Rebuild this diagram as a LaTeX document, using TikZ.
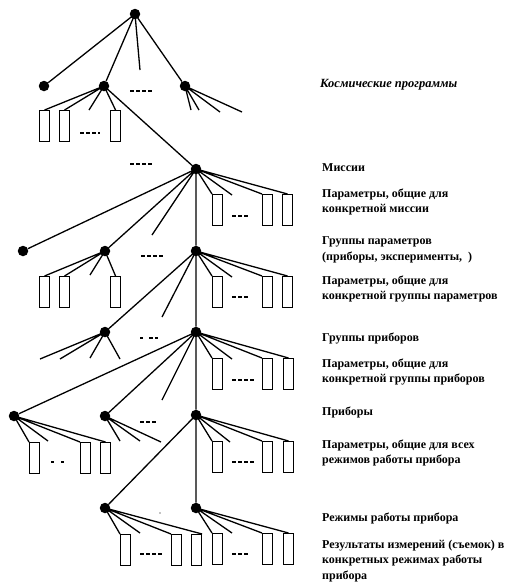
\documentclass[tikz,border=0pt]{standalone}
\usepackage{fontspec}
\setmainfont{Liberation Serif}
\begin{document}
\begin{tikzpicture}[x=1pt,y=-1pt,
  dot/.style={circle,fill,inner sep=0pt,minimum size=10.5pt},
  ln/.style={line width=1.3pt},
  box/.style={draw,line width=1.1pt,inner sep=0pt,minimum width=10pt,minimum height=31pt,anchor=north west},
  gapline/.style={line width=1.3pt,dash pattern=on 4pt off 2pt},
  lbl/.style={anchor=west,font=\bfseries\fontsize{12}{15.5}\selectfont,align=left,inner sep=0pt}]
\useasboundingbox (0,0) rectangle (515,587);
% ---- dots
\node[dot] (T) at (135,14) {};
\node[dot] (A1) at (44,86) {};
\node[dot] (A2) at (104,86) {};
\node[dot] (A3) at (185,86) {};
\node[dot] (M) at (196,169) {};
\node[dot] (G1) at (23,251) {};
\node[dot] (G2) at (105,251) {};
\node[dot] (G3) at (196,251) {};
\node[dot] (H1) at (105,332) {};
\node[dot] (H3) at (196,332) {};
\node[dot] (P1) at (14,416) {};
\node[dot] (P2) at (105,416) {};
\node[dot] (P3) at (196,415) {};
\node[dot] (R1) at (105,508) {};
\node[dot] (R3) at (196,508) {};
% ---- rectangles
\node[box] (a2r1) at (39,110) {};
\node[box] (a2r2) at (59,110) {};
\node[box] (a2r3) at (110,110) {};
\node[box] (mr1) at (212,194) {};
\node[box] (mr2) at (262,194) {};
\node[box] (mr3) at (282,194) {};
\node[box] (g2r1) at (39,276) {};
\node[box] (g2r2) at (59,276) {};
\node[box] (g2r3) at (110,276) {};
\node[box] (g3r1) at (212,276) {};
\node[box] (g3r2) at (262,276) {};
\node[box] (g3r3) at (282,276) {};
\node[box] (h3r1) at (212,358) {};
\node[box] (h3r2) at (262,358) {};
\node[box] (h3r3) at (283,358) {};
\node[box] (p1r1) at (29,442) {};
\node[box] (p1r2) at (80,442) {};
\node[box] (p1r3) at (100,442) {};
\node[box] (p3r1) at (212,441) {};
\node[box] (p3r2) at (262,441) {};
\node[box] (p3r3) at (283,441) {};
\node[box] (r1r1) at (120,534) {};
\node[box] (r1r2) at (171,534) {};
\node[box] (r1r3) at (191,534) {};
\node[box] (r3r1) at (212,533) {};
\node[box] (r3r2) at (262,533) {};
\node[box] (r3r3) at (283,533) {};
% ---- free ends
\coordinate (t4) at (140,70);
\coordinate (a2c3) at (89,110);
\coordinate (a3c1) at (191,110);
\coordinate (a3c2) at (199,110);
\coordinate (a3c3) at (220,112);
\coordinate (a3c4) at (242,112);
\coordinate (mc) at (152,235);
\coordinate (mc2) at (232,195);
\coordinate (g2c3) at (90,275);
\coordinate (g3c2) at (232,277);
\coordinate (g3c) at (162,317);
\coordinate (h1c1) at (40,359);
\coordinate (h1c2) at (60,359);
\coordinate (h1c3) at (90,358);
\coordinate (h1c4) at (120,359);
\coordinate (h3c2) at (232,359);
\coordinate (h3c) at (162,400);
\coordinate (p1c2) at (48,441);
\coordinate (p2c1) at (120,441);
\coordinate (p2c2) at (140,441);
\coordinate (p2c3) at (161,442);
\coordinate (p3c2) at (230,442);
\coordinate (r1c2) at (140,533);
\coordinate (r3c2) at (232,533);
% ---- connectors
\draw[ln] (T.center) -- (A1) (T.center) -- (A2) (T.center) -- (t4) (T.center) -- (A3);
\draw[ln] (A2.center) -- (a2r1.north) (A2.center) -- (a2r2.north) (A2.center) -- (a2c3) (A2.center) -- (a2r3.north) (A2.center) -- (M);
\draw[ln] (A3.center) -- (a3c1) (A3.center) -- (a3c2) (A3.center) -- (a3c3) (A3.center) -- (a3c4);
\draw[ln] (M.center) -- (G1) (M.center) -- (G2) (M.center) -- (mc) (M.center) -- (G3);
\draw[ln] (M.center) -- (mr1.north west) (M.center) -- (mc2) (M.center) -- (mr2.north west) (M.center) -- (mr3.north);
\draw[ln] (G2.center) -- (g2r1.north) (G2.center) -- (g2r2.north) (G2.center) -- (g2c3) (G2.center) -- (g2r3.north);
\draw[ln] (G3.center) -- (g3r1.north west) (G3.center) -- (g3c2) (G3.center) -- (g3r2.north west) (G3.center) -- (g3r3.north);
\draw[ln] (G3.center) -- (H1) (G3.center) -- (g3c) (G3.center) -- (H3);
\draw[ln] (H1.center) -- (h1c1) (H1.center) -- (h1c2) (H1.center) -- (h1c3) (H1.center) -- (h1c4);
\draw[ln] (H3.center) -- (h3r1.north west) (H3.center) -- (h3c2) (H3.center) -- (h3r2.north west) (H3.center) -- (h3r3.north);
\draw[ln] (H3.center) -- (P1) (H3.center) -- (P2) (H3.center) -- (h3c) (H3.center) -- (P3);
\draw[ln] (P1.center) -- (p1r1.north west) (P1.center) -- (p1c2) (P1.center) -- (p1r2.north west) (P1.center) -- (p1r3.north);
\draw[ln] (P2.center) -- (p2c1) (P2.center) -- (p2c2) (P2.center) -- (p2c3);
\draw[ln] (P3.center) -- (p3r1.north west) (P3.center) -- (p3c2) (P3.center) -- (p3r2.north west) (P3.center) -- (p3r3.north);
\draw[ln] (P3.center) -- (R1) (P3.center) -- (R3);
\draw[ln] (R1.center) -- (r1r1.north west) (R1.center) -- (r1c2) (R1.center) -- (r1r2.north west) (R1.center) -- (r1r3.north east);
\draw[ln] (R3.center) -- (r3r1.north west) (R3.center) -- (r3c2) (R3.center) -- (r3r2.north west) (R3.center) -- (r3r3.north);
% ---- ellipsis dashes
\draw[gapline] (130,91) -- (152,91);
\draw[gapline] (80,133) -- (100,133);
\draw[gapline] (130,164) -- (152,164);
\draw[gapline] (232,216) -- (248,216);
\draw[gapline] (141,256) -- (163,256);
\draw[gapline] (232,297) -- (248,297);
\draw[gapline,dash pattern=on 3pt off 6pt on 4pt off 2pt] (140,338) -- (162,338);
\draw[gapline] (232,380) -- (254,380);
\draw[gapline] (140,422) -- (156,422);
\draw[gapline,dash pattern=on 3pt off 7pt] (51,462) -- (64,462);
\draw[gapline] (232,462) -- (254,462);
\draw[gapline] (140,554) -- (162,554);
\draw[gapline] (232,554) -- (248,554);
\fill (160,513) circle (0.7pt);
% ---- labels
\node[lbl,font=\bfseries\itshape\fontsize{12.5}{15.5}\selectfont] (l1) at (320,85) {Космические программы};
\node[lbl] (l2) at (322,168) {Миссии};
\node[lbl] (l3) at (322,202) {Параметры, общие для\\конкретной миссии};
\node[lbl] (l4) at (322,250) {Группы параметров\\(приборы, эксперименты,~~)};
\node[lbl] (l5) at (322,289) {Параметры, общие для\\конкретной группы параметров};
\node[lbl] (l6) at (322,338) {Группы приборов};
\node[lbl] (l7) at (322,372) {Параметры, общие для\\конкретной группы приборов};
\node[lbl] (l8) at (322,412) {Приборы};
\node[lbl] (l9) at (322,453) {Параметры, общие для всех\\режимов работы прибора};
\node[lbl] (l10) at (322,518) {Режимы работы прибора};
\node[lbl] (l11) at (322,561) {Результаты измерений (съемок) в\\конкретных режимах работы\\прибора};
\end{tikzpicture}
\end{document}
